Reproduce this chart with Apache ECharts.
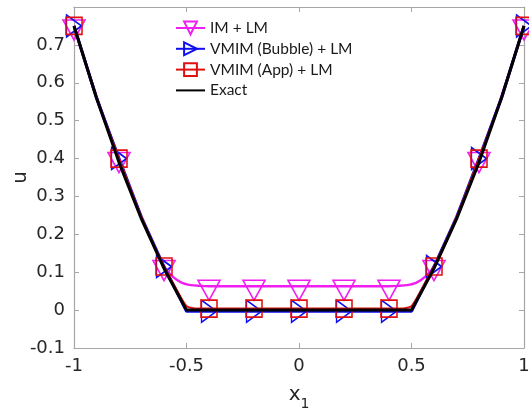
<!DOCTYPE html>
<html><head><meta charset="utf-8">
<script src="https://cdn.jsdelivr.net/npm/echarts@6/dist/echarts.min.js"></script>
<style>html,body{margin:0;padding:0;background:#fff}#c{width:529px;height:410px}</style>
</head><body><div id="c"></div>
<script>
// ---- data ----
const markerX = [-1, -0.8, -0.6, -0.4, -0.2, 0, 0.2, 0.4, 0.6, 0.8, 1];

const imX = [-1, -0.9, -0.8, -0.7, -0.6, -0.56, -0.52, -0.48, -0.44, -0.4, -0.2, 0, 0.2, 0.4, 0.44, 0.48, 0.52, 0.56, 0.6, 0.7, 0.8, 0.9, 1];
const imY = [0.75, 0.565, 0.40, 0.245, 0.115, 0.088, 0.072, 0.066, 0.064, 0.063, 0.063, 0.063, 0.063, 0.063, 0.064, 0.066, 0.072, 0.088, 0.115, 0.245, 0.40, 0.565, 0.75];

const bubX = [-1, -0.9, -0.8, -0.7, -0.6, -0.5, -0.4, -0.2, 0, 0.2, 0.4, 0.5, 0.6, 0.7, 0.8, 0.9, 1];
const bubY = [0.75, 0.56, 0.40, 0.245, 0.115, -0.003, -0.003, -0.003, -0.003, -0.003, -0.003, -0.003, 0.115, 0.245, 0.40, 0.56, 0.75];

const appX = [-1, -0.9, -0.8, -0.7, -0.6, -0.55, -0.5, -0.45, -0.4, -0.2, 0, 0.2, 0.4, 0.45, 0.5, 0.55, 0.6, 0.7, 0.8, 0.9, 1];
const appY = [0.75, 0.56, 0.40, 0.245, 0.115, 0.06, 0.01, 0.004, 0.004, 0.004, 0.004, 0.004, 0.004, 0.004, 0.01, 0.06, 0.115, 0.245, 0.40, 0.56, 0.75];

const exactX = [-1, -0.9, -0.8, -0.7, -0.6, -0.5, 0.5, 0.6, 0.7, 0.8, 0.9, 1];
const exactY = [0.75, 0.56, 0.39, 0.24, 0.11, 0, 0, 0.11, 0.24, 0.39, 0.56, 0.75];

const xTicks = [-1, -0.5, 0, 0.5, 1];
const seriesNames = ['IM + LM', 'VMIM (Bubble) + LM', 'VMIM (App) + LM', 'Exact'];

// ---- build ----
function build(xs, ys, withMarkers) {
  return xs.map((x, i) => {
    const on = withMarkers && markerX.some(m => Math.abs(m - x) < 1e-9);
    return on ? { value: [x, ys[i]] } : { value: [x, ys[i]], symbol: 'none' };
  });
}
const font = 'DejaVu Sans';
const axisGray = '#a6a6a6';
const chart = echarts.init(document.getElementById('c'), null, { renderer: 'canvas' });
const baseAxis = {
  axisLine: { show: true, onZero: false, lineStyle: { color: axisGray, width: 1.2 } },
  axisTick: { show: true, inside: true, length: 5, lineStyle: { color: axisGray } },
  splitLine: { show: false }
};
chart.setOption({
  animation: false,
  backgroundColor: '#fff',
  grid: { left: 74, right: 5, top: 7, bottom: 62, containLabel: false, outerBoundsMode: 'none' },
  legend: {
    orient: 'vertical', left: 170, top: 15,
    itemWidth: 29, itemHeight: 16, itemGap: 4.8,
    symbolRotate: 'inherit',
    textStyle: { fontFamily: 'Lato', fontSize: 15.5, color: '#1a1a1a' },
    data: [seriesNames[0], seriesNames[1], seriesNames[2], { name: seriesNames[3], itemStyle: { opacity: 0 } }]
  },
  xAxis: [
    Object.assign({}, baseAxis, {
      type: 'value', min: -1, max: 1, interval: 0.5, position: 'bottom',
      axisLabel: { fontFamily: font, fontSize: 18, color: '#262626', margin: 9,
        formatter: v => xTicks.some(t => Math.abs(t - v) < 1e-9) ? String(Math.round(v * 10) / 10) : '' },
      name: '{a|x}{b|1}', nameLocation: 'middle', nameGap: 37,
      nameTextStyle: { rich: {
        a: { fontFamily: font, fontSize: 20, color: '#262626', verticalAlign: 'top', lineHeight: 26 },
        b: { fontFamily: font, fontSize: 14, color: '#262626', verticalAlign: 'bottom', lineHeight: 26 }
      } }
    }),
    Object.assign({}, baseAxis, {
      type: 'value', min: -1, max: 1, interval: 0.5, position: 'top',
      axisLabel: { show: false }
    })
  ],
  yAxis: [
    Object.assign({}, baseAxis, {
      type: 'value', min: -0.1, max: 0.8, interval: 0.1, position: 'left',
      axisLabel: { fontFamily: font, fontSize: 18, color: '#262626', margin: 9,
        formatter: v => v > 0.75 ? '' : String(Math.round(v * 10) / 10) },
      name: 'u', nameLocation: 'middle', nameGap: 43, nameRotate: 90, nameMoveOverlap: false,
      nameTextStyle: { fontFamily: font, fontSize: 20, color: '#262626' }
    }),
    Object.assign({}, baseAxis, {
      type: 'value', min: -0.1, max: 0.8, interval: 0.1, position: 'right',
      axisLabel: { show: false }
    })
  ],
  series: [
    {
      name: seriesNames[0], type: 'line', data: build(imX, imY, true), smooth: 0.3,
      symbol: 'triangle', symbolRotate: 180, symbolSize: [22, 20], symbolOffset: [0, 4],
      itemStyle: { color: 'rgba(255,255,255,0)', borderColor: '#f01ef0', borderWidth: 1.6 },
      lineStyle: { color: '#f01ef0', width: 2.4 }, z: 2
    },
    {
      name: seriesNames[1], type: 'line', data: build(bubX, bubY, true),
      symbol: 'triangle', symbolRotate: -90, symbolSize: [22, 15],
      itemStyle: { color: 'rgba(255,255,255,0)', borderColor: '#1010ee', borderWidth: 1.6 },
      lineStyle: { color: '#1010ee', width: 3 }, z: 3
    },
    {
      name: seriesNames[2], type: 'line', data: build(appX, appY, true), smooth: 0.2,
      symbol: 'rect', symbolSize: [16, 17],
      itemStyle: { color: 'rgba(255,255,255,0)', borderColor: '#e01010', borderWidth: 1.6 },
      lineStyle: { color: '#e01010', width: 2.2 }, z: 4
    },
    {
      name: seriesNames[3], type: 'line', data: build(exactX, exactY, false),
      symbol: 'none', showSymbol: false,
      itemStyle: { color: '#000' },
      lineStyle: { color: '#000', width: 3 }, z: 5
    }
  ]
});
</script></body></html>
